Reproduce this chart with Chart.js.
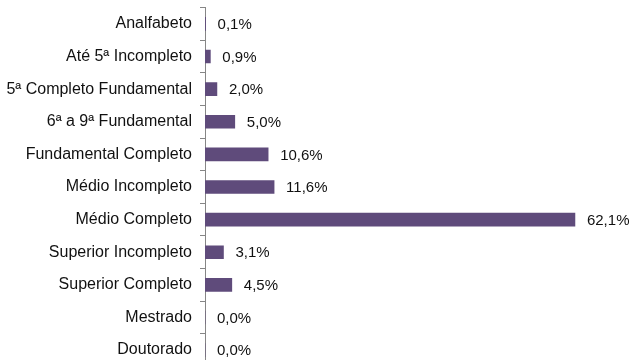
<!DOCTYPE html>
<html>
<head>
<meta charset="utf-8">
<script src="https://cdn.jsdelivr.net/npm/chart.js@4/dist/chart.umd.min.js"></script>
<style>
    html, body { margin: 0; padding: 0; background: #fff; overflow: hidden; }
    #wrap { width: 632px; height: 360px; overflow: hidden; }
    #escolaridade-chart { display: block; margin-top: -10px; }
</style>
</head>
<body>
<div id="wrap"><canvas id="escolaridade-chart" width="632" height="394"></canvas></div>
<script>
'use strict';

var categorias = ['Analfabeto', 'Até 5ª Incompleto', '5ª Completo Fundamental', '6ª a 9ª Fundamental',
    'Fundamental Completo', 'Médio Incompleto', 'Médio Completo', 'Superior Incompleto',
    'Superior Completo', 'Mestrado', 'Doutorado'];
var percentuais = [0.1, 0.9, 2.0, 5.0, 10.6, 11.6, 62.1, 3.1, 4.5, 0.0, 0.0];

var fonte = 'Arial, "Liberation Sans", sans-serif';

function formatPct(v) {
    return v.toFixed(1).replace('.', ',') + '%';
}

// rotulo de valor depois de cada barra
var rotulos = {
    id: 'rotulos',
    afterDatasetsDraw: function (chart) {
        var ctx = chart.ctx;
        var meta = chart.getDatasetMeta(0);
        ctx.save();
        ctx.font = '15px ' + fonte;
        ctx.fillStyle = '#111';
        ctx.textAlign = 'left';
        ctx.textBaseline = 'middle';
        meta.data.forEach(function (bar, i) {
            ctx.fillText(formatPct(percentuais[i]), bar.x + 12, bar.y + 1);
        });
        ctx.restore();
    }
};

var canvas = document.getElementById('escolaridade-chart');
new Chart(canvas, {
    type: 'bar',
    data: {
        labels: categorias,
        datasets: [{
            data: percentuais,
            backgroundColor: '#5f4b7b',
            barThickness: 13
        }]
    },
    options: {
        indexAxis: 'y',
        responsive: false,
        animation: false,
        layout: { padding: { top: 6, bottom: 6, left: 0, right: 10 } },
        plugins: {
            legend: { display: false },
            tooltip: { enabled: false }
        },
        scales: {
            x: { display: false, min: 0, max: 70 },
            y: {
                afterFit: function (scale) { scale.width = 205; },
                grid: {
                    drawOnChartArea: false,
                    offset: true,
                    tickLength: 5,
                    color: '#868686'
                },
                border: { color: '#868686' },
                ticks: {
                    color: '#111',
                    padding: 8,
                    font: { family: fonte, size: 16 }
                }
            }
        }
    },
    plugins: [rotulos]
});
</script>
</body>
</html>
